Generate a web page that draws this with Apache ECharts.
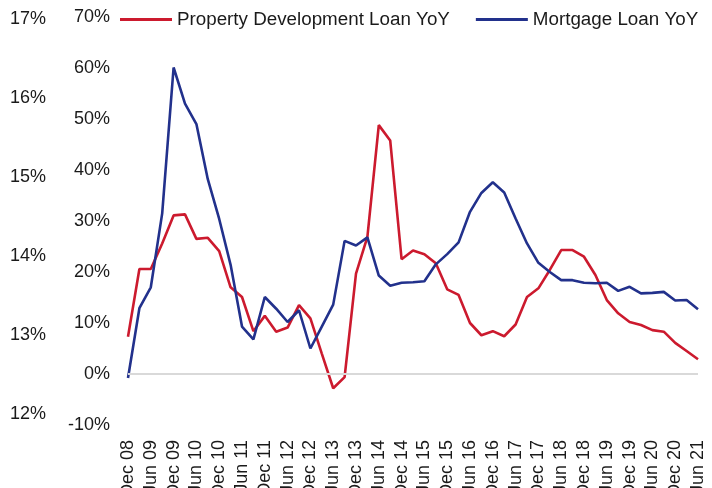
<!DOCTYPE html>
<html>
<head>
<meta charset="utf-8">
<script src="https://cdn.jsdelivr.net/npm/echarts@6/dist/echarts.min.js"></script>
<style>
html,body{margin:0;padding:0;background:#fff;}
#chart{width:712px;height:488px;}
</style>
</head>
<body>
<div id="chart"></div>
<script>
// Quarterly categories Dec 08 .. Jun 21
const categories = [
  "Dec 08","Mar 09","Jun 09","Sep 09","Dec 09","Mar 10","Jun 10","Sep 10","Dec 10","Mar 11","Jun 11",
  "Sep 11","Dec 11","Mar 12","Jun 12","Sep 12","Dec 12","Mar 13","Jun 13","Sep 13","Dec 13",
  "Mar 14","Jun 14","Sep 14","Dec 14","Mar 15","Jun 15","Sep 15","Dec 15","Mar 16","Jun 16",
  "Sep 16","Dec 16","Mar 17","Jun 17","Sep 17","Dec 17","Mar 18","Jun 18","Sep 18","Dec 18",
  "Mar 19","Jun 19","Sep 19","Dec 19","Mar 20","Jun 20","Sep 20","Dec 20","Mar 21","Jun 21"
];
const propertyDevLoanYoY = [
  7.3, 20.6, 20.6, 25.6, 31.1, 31.3, 26.5, 26.7, 24.1, 17.0, 15.1,
  8.4, 11.4, 8.3, 9.1, 13.5, 10.9, 4.0, -2.8, -0.6, 19.7,
  26.9, 48.8, 45.8, 22.5, 24.2, 23.5, 21.7, 16.6, 15.5, 10.0,
  7.6, 8.4, 7.4, 9.7, 15.1, 16.8, 20.4, 24.3, 24.3, 23.0,
  19.4, 14.5, 11.9, 10.2, 9.6, 8.6, 8.3, 6.1, 4.5, 2.9
];
const mortgageLoanYoY = [
  -0.8, 12.9, 17.0, 31.5, 60.1, 53.0, 49.0, 38.2, 30.4, 21.4, 9.3,
  6.8, 15.1, 12.8, 10.2, 12.5, 5.0, 9.3, 13.6, 26.1, 25.2,
  26.8, 19.3, 17.3, 17.9, 18.0, 18.2, 21.5, 23.5, 25.8, 31.8,
  35.5, 37.6, 35.6, 30.5, 25.6, 21.8, 20.0, 18.4, 18.4, 17.9,
  17.8, 17.9, 16.3, 17.1, 15.8, 15.9, 16.1, 14.4, 14.5, 12.7
];
// Axis ranges / ticks
const innerAxis = {min: -10, max: 70, interval: 10};
const outerAxis = {min: 12, max: 17, interval: 1};

const RED = '#CC1A2E';
const BLUE = '#22318C';
const FONT = 'Liberation Sans, Arial, sans-serif';

const chart = echarts.init(document.getElementById('chart'), null, {renderer: 'canvas'});
chart.setOption({
  animation: false,
  backgroundColor: '#ffffff',
  textStyle: {fontFamily: FONT},
  legend: {
    left: 120, top: 10, padding: 0,
    icon: 'rect', itemWidth: 52, itemHeight: 3, itemGap: 26,
    textStyle: {fontSize: 18.8, color: '#1a1a1a', fontFamily: FONT},
    data: ['Property Development Loan YoY', 'Mortgage Loan YoY']
  },
  grid: [
    {left: 128, right: 14, top: 17, bottom: 63, outerBoundsMode: 'none', containLabel: false},
    {left: 54, width: 1, top: 19.5, height: 395, outerBoundsMode: 'none', containLabel: false}
  ],
  xAxis: [
    {
      type: 'category', gridIndex: 0, data: categories, boundaryGap: false,
      axisLine: {show: false}, axisTick: {show: false},
      axisLabel: {interval: 1, rotate: 90, margin: 15, fontSize: 18, color: '#1a1a1a', fontFamily: FONT, hideOverlap: false}
    },
    {type: 'value', gridIndex: 1, show: false, min: 0, max: 1}
  ],
  yAxis: [
    {
      type: 'value', gridIndex: 0, min: innerAxis.min, max: innerAxis.max, interval: innerAxis.interval,
      axisLine: {show: false}, axisTick: {show: false}, splitLine: {show: false},
      axisLabel: {formatter: '{value}%', margin: 18, fontSize: 18, color: '#1a1a1a', fontFamily: FONT}
    },
    {
      type: 'value', gridIndex: 1, min: outerAxis.min, max: outerAxis.max, interval: outerAxis.interval,
      axisLine: {show: false}, axisTick: {show: false}, splitLine: {show: false},
      axisLabel: {formatter: '{value}%', margin: 8, fontSize: 18, color: '#1a1a1a', fontFamily: FONT}
    }
  ],
  series: [
    {
      name: 'Property Development Loan YoY', type: 'line', xAxisIndex: 0, yAxisIndex: 0,
      data: propertyDevLoanYoY, showSymbol: false, symbol: 'none',
      lineStyle: {color: RED, width: 2.6}, itemStyle: {color: RED},
      markLine: {
        silent: true, symbol: 'none', label: {show: false},
        lineStyle: {color: '#d9d9d9', width: 2, type: 'solid'},
        data: [{yAxis: 0}]
      }
    },
    {
      name: 'Mortgage Loan YoY', type: 'line', xAxisIndex: 0, yAxisIndex: 0,
      data: mortgageLoanYoY, showSymbol: false, symbol: 'none',
      lineStyle: {color: BLUE, width: 2.6}, itemStyle: {color: BLUE}
    }
  ]
});
</script>
</body>
</html>
